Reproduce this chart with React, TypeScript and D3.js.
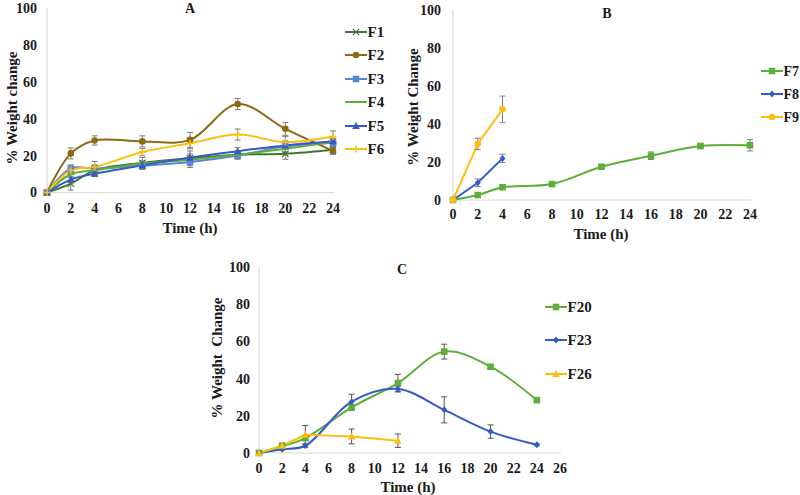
import React from "react";
import * as d3 from "d3";

// ---------- DATA ----------
const timesA = [0, 2, 4, 8, 12, 16, 20, 24];
const F1 = [0, 4.8, 12, 16, 18.5, 20.5, 21, 23.2];
const F1err = [0, 3.5, 2, 3, 4, 2, 3, 2];
const F2 = [0, 21.2, 28.2, 27.7, 28.5, 48, 34.5, 22.6];
const F2err = [0, 3, 2.5, 3, 4, 3, 3.5, 2];
const F3 = [0, 13, 13, 14.5, 16.5, 20, 25, 27];
const F3err = [0, 2, 2, 2, 3, 2, 3, 2];
const F4 = [0, 9.9, 12, 15.6, 17.8, 20.5, 23.7, 27.3];
const F4err = [0, 1.5, 2, 1.5, 2, 1.5, 2, 1.5];
const F5 = [0, 7, 10.2, 14.7, 18.9, 22.4, 25.5, 27.8];
const F5err = [0, 1.5, 1.5, 1.5, 2, 2, 2, 1.5];
const F6 = [0, 12, 13.8, 21.9, 26.7, 31.4, 27.3, 30.3];
const F6err = [0, 1.5, 3, 2, 3, 3, 3, 3];

const timesB7 = [0, 2, 4, 8, 12, 16, 20, 24];
const F7 = [0, 2.6, 6.7, 8.4, 17.5, 23.3, 28.4, 28.8];
const F7err = [0, 0.8, 0.8, 0.8, 1, 2, 1, 3];
const timesB89 = [0, 2, 4];
const F8 = [0, 9.1, 21.9];
const F8err = [0, 2, 2.2];
const F9 = [0, 29.5, 47.7];
const F9err = [0, 3, 7];

const timesC = [0, 2, 4, 8, 12, 16, 20, 24];
const F20 = [0, 3.6, 8, 24.5, 37.6, 54.5, 46.4, 28.4];
const F20err = [0, 1.5, 1, 1.5, 4.7, 4, 1, 1];
const F23 = [0, 2, 3.9, 27.6, 34.4, 23.2, 11.5, 4.4];
const F23err = [0, 0.5, 0.8, 4, 1.5, 7, 3.6, 0.5];
const timesC26 = [0, 2, 4, 8, 12];
const F26 = [0, 3.9, 9.8, 8.9, 6.6];
const F26err = [0, 1.5, 5, 4, 3.6];

const ticksA = d3.range(0, 25, 2);
const ticksB = d3.range(0, 25, 2);
const ticksC = d3.range(0, 27, 2);
const ticksY = [0, 20, 40, 60, 80, 100];

// ---------- STYLE ----------
const FONT = "'Liberation Serif', 'Times New Roman', serif";
const AXIS = "#d9d9d9";
const ERR = "#7f7f7f";

type Marker = "x" | "circle" | "square" | "dash" | "triangle" | "plus" | "diamond";
interface Series {
  name: string;
  t: number[];
  v: number[];
  e: number[];
  color: string;
  marker: Marker;
  smooth: boolean;
  errColor?: string;
}

interface Panel {
  title: string;
  ylabel: string;
  xDomain: [number, number];
  xRange: [number, number];
  yRange: [number, number];
  xTicks: number[];
  series: Series[];
  titlePos: [number, number];
  xlabelPos: [number, number];
  ylabelPos: [number, number];
  legendX: number;
  legendY: number[];
  legendFont: number;
  tickGap: number;
  yTickGap: number;
}

const panels: Panel[] = [
  {
    title: "A",
    ylabel: "% Weight change",
    xDomain: [0, 24],
    xRange: [47, 333],
    yRange: [192.5, 8],
    xTicks: ticksA,
    titlePos: [190, 8],
    xlabelPos: [190, 228],
    ylabelPos: [12, 108],
    legendX: 345,
    legendY: [32, 55, 79, 102, 126, 149],
    legendFont: 15,
    tickGap: 16,
    yTickGap: 10,
    series: [
      { name: "F1", t: timesA, v: F1, e: F1err, color: "#3c7a2e", marker: "x", smooth: true },
      { name: "F2", t: timesA, v: F2, e: F2err, color: "#8c6a12", marker: "circle", smooth: true },
      { name: "F3", t: timesA, v: F3, e: F3err, color: "#5b84d8", marker: "square", smooth: true },
      { name: "F4", t: timesA, v: F4, e: F4err, color: "#5fae3c", marker: "dash", smooth: true },
      { name: "F5", t: timesA, v: F5, e: F5err, color: "#3559c8", marker: "triangle", smooth: true },
      { name: "F6", t: timesA, v: F6, e: F6err, color: "#fdbf0f", marker: "plus", smooth: true },
    ],
  },
  {
    title: "B",
    ylabel: "% Weight Change",
    xDomain: [0, 24],
    xRange: [453, 750],
    yRange: [200, 10],
    xTicks: ticksB,
    titlePos: [607, 13],
    xlabelPos: [601, 234],
    ylabelPos: [413, 107],
    legendX: 761,
    legendY: [71, 94, 117],
    legendFont: 14,
    tickGap: 14,
    yTickGap: 12,
    series: [
      { name: "F7", t: timesB7, v: F7, e: F7err, color: "#5fae3c", marker: "square", smooth: true },
      { name: "F8", t: timesB89, v: F8, e: F8err, color: "#3559c8", marker: "diamond", smooth: false },
      { name: "F9", t: timesB89, v: F9, e: F9err, color: "#fdbf0f", marker: "circle", smooth: false },
    ],
  },
  {
    title: "C",
    ylabel: "% Weight  Change",
    xDomain: [0, 26],
    xRange: [259, 560],
    yRange: [453, 267],
    xTicks: ticksC,
    titlePos: [402, 269],
    xlabelPos: [408, 487],
    ylabelPos: [217, 358],
    legendX: 545,
    legendY: [307, 340, 374],
    legendFont: 15,
    tickGap: 15,
    yTickGap: 9,
    series: [
      { name: "F20", t: timesC, v: F20, e: F20err, color: "#5fae3c", marker: "square", smooth: true, errColor: "#555" },
      { name: "F23", t: timesC, v: F23, e: F23err, color: "#3559c8", marker: "diamond", smooth: true, errColor: "#555" },
      { name: "F26", t: timesC26, v: F26, e: F26err, color: "#fdbf0f", marker: "triangle", smooth: false, errColor: "#555" },
    ],
  },
];

function MarkerShape({ m, x, y, color }: { m: Marker; x: number; y: number; color: string }) {
  const s = 3.2;
  switch (m) {
    case "x":
      return (
        <g stroke={color} strokeWidth={1.2}>
          <line x1={x - s} y1={y - s} x2={x + s} y2={y + s} />
          <line x1={x - s} y1={y + s} x2={x + s} y2={y - s} />
        </g>
      );
    case "circle":
      return <circle cx={x} cy={y} r={3.3} fill={color} />;
    case "square":
      return <rect x={x - 3.3} y={y - 3.3} width={6.6} height={6.6} fill={color} />;
    case "dash":
      return <line x1={x - 3.5} y1={y} x2={x + 3.5} y2={y} stroke={color} strokeWidth={2} />;
    case "triangle":
      return <path d={`M${x},${y - 4}L${x + 3.8},${y + 3}L${x - 3.8},${y + 3}Z`} fill={color} />;
    case "plus":
      return (
        <g stroke={color} strokeWidth={1.6}>
          <line x1={x - 3.5} y1={y} x2={x + 3.5} y2={y} />
          <line x1={x} y1={y - 3.5} x2={x} y2={y + 3.5} />
        </g>
      );
    case "diamond":
      return <path d={`M${x},${y - 3.5}L${x + 3},${y}L${x},${y + 3.5}L${x - 3},${y}Z`} fill={color} />;
  }
}

function PanelView({ p }: { p: Panel }) {
  const x = d3.scaleLinear().domain(p.xDomain).range(p.xRange);
  const y = d3.scaleLinear().domain([0, 100]).range(p.yRange);
  const x0 = p.xRange[0];
  const y0 = p.yRange[0];
  const boldText = { fontFamily: FONT, fontWeight: 700, fill: "#1a1a1a" } as const;

  return (
    <g>
      {/* axes */}
      <line x1={x0} y1={p.yRange[1]} x2={x0} y2={y0} stroke={AXIS} strokeWidth={1.2} />
      <line x1={x0} y1={y0} x2={p.xRange[1] + 1} y2={y0} stroke={AXIS} strokeWidth={1.2} />
      {ticksY.map((t) => (
        <text key={"y" + t} x={x0 - p.yTickGap} y={y(t)} dy="0.35em" textAnchor="end" fontSize={14} style={boldText}>
          {t}
        </text>
      ))}
      {p.xTicks.map((t) => (
        <text key={"x" + t} x={x(t)} y={y0 + p.tickGap} dy="0.35em" textAnchor="middle" fontSize={14} style={boldText}>
          {t}
        </text>
      ))}
      <text x={p.titlePos[0]} y={p.titlePos[1]} dy="0.35em" textAnchor="middle" fontSize={14} style={boldText}>
        {p.title}
      </text>
      <text x={p.xlabelPos[0]} y={p.xlabelPos[1]} dy="0.35em" textAnchor="middle" fontSize={15} style={boldText}>
        Time (h)
      </text>
      <text
        transform={`translate(${p.ylabelPos[0]},${p.ylabelPos[1]}) rotate(-90)`}
        dy="0.35em"
        textAnchor="middle"
        fontSize={15}
        style={{ ...boldText, whiteSpace: "pre" }}
      >
        {p.ylabel}
      </text>

      {/* series lines */}
      {p.series.map((s) => {
        const pts: [number, number][] = s.t.map((t, i) => [x(t), y(s.v[i])]);
        const gen = d3.line().curve(s.smooth ? d3.curveCatmullRom.alpha(0.5) : d3.curveLinear);
        return <path key={s.name + "l"} d={gen(pts) || ""} fill="none" stroke={s.color} strokeWidth={2} />;
      })}
      {/* error bars */}
      {p.series.map((s) => (
        <g key={s.name + "e"} stroke={s.errColor ?? ERR} strokeWidth={1}>
          {s.t.map((t, i) =>
            s.e[i] > 0 ? (
              <g key={i}>
                <line x1={x(t)} x2={x(t)} y1={y(s.v[i] - s.e[i])} y2={y(s.v[i] + s.e[i])} />
                <line x1={x(t) - 3} x2={x(t) + 3} y1={y(s.v[i] - s.e[i])} y2={y(s.v[i] - s.e[i])} />
                <line x1={x(t) - 3} x2={x(t) + 3} y1={y(s.v[i] + s.e[i])} y2={y(s.v[i] + s.e[i])} />
              </g>
            ) : null
          )}
        </g>
      ))}
      {/* markers */}
      {p.series.map((s) => (
        <g key={s.name + "m"}>
          {s.t.map((t, i) => (
            <MarkerShape key={i} m={s.marker} x={x(t)} y={y(s.v[i])} color={s.color} />
          ))}
        </g>
      ))}
      {/* legend */}
      {p.series.map((s, i) => {
        const ly = p.legendY[i];
        const lx = p.legendX;
        return (
          <g key={s.name + "lg"}>
            <line x1={lx} x2={lx + 22} y1={ly} y2={ly} stroke={s.color} strokeWidth={2} />
            <MarkerShape m={s.marker} x={lx + 11} y={ly} color={s.color} />
            <text x={lx + 22.5} y={ly} dy="0.35em" fontSize={p.legendFont} style={boldText}>
              {s.name}
            </text>
          </g>
        );
      })}
    </g>
  );
}

export default function App() {
  return (
    <svg
      width={800}
      height={495}
      style={{ position: "absolute", left: 0, top: 0, background: "#fff" }}
    >
      <rect width={800} height={495} fill="#fff" />
      {panels.map((p) => (
        <PanelView key={p.title} p={p} />
      ))}
    </svg>
  );
}
